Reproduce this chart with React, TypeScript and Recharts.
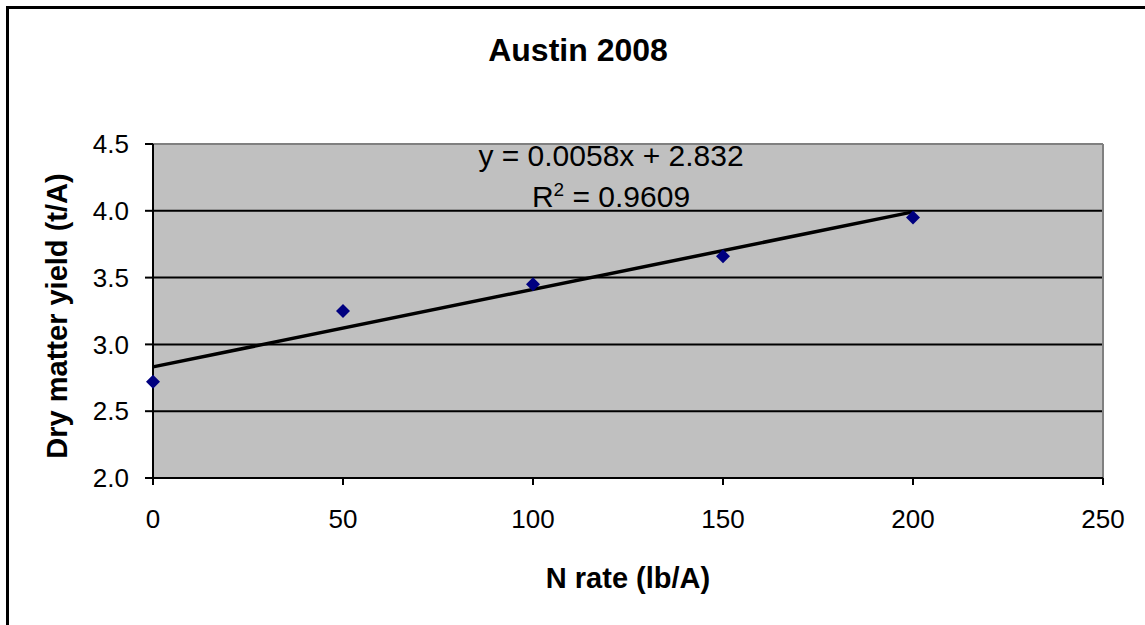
import React from "react";
import {
  ScatterChart,
  Scatter,
  XAxis,
  YAxis,
  CartesianGrid,
  ReferenceLine,
} from "recharts";

const nRate = [0, 50, 100, 150, 200];
const dryMatterYield = [2.72, 3.25, 3.45, 3.66, 3.95];
const trendX = [0, 200];
const trendY = [2.832, 3.992];
const xTicks = [0, 50, 100, 150, 200, 250];
const yTicks = [2.0, 2.5, 3.0, 3.5, 4.0, 4.5];

const points = nRate.map((x, i) => ({ x, y: dryMatterYield[i] }));
const trend = trendX.map((x, i) => ({ x, y: trendY[i] }));

const FONT = '"Liberation Sans", Arial, sans-serif';

const Diamond = (props: any) => {
  const { cx, cy } = props;
  const r = 7;
  return (
    <polygon
      points={`${cx},${cy - r} ${cx + r},${cy} ${cx},${cy + r} ${cx - r},${cy}`}
      fill="#000080"
    />
  );
};

const NoShape = () => <g />;

export default function App() {
  return (
    <div
      style={{
        position: "absolute",
        left: 0,
        top: 0,
        width: 1145,
        height: 625,
        overflow: "hidden",
        background: "#fff",
        fontFamily: FONT,
      }}
    >
      <div
        style={{
          position: "absolute",
          left: 6,
          top: 6,
          width: 1400,
          height: 900,
          border: "3px solid #000",
        }}
      />
      <div style={{ position: "absolute", left: 0, top: 0 }}>
        <ScatterChart
          width={1145}
          height={625}
          margin={{ top: 144, right: 42, bottom: 87, left: 93 }}
        >
          <CartesianGrid
            vertical={false}
            stroke="#000"
            strokeWidth={2}
            fill="#C0C0C0"
            fillOpacity={1}
          />
          <XAxis
            type="number"
            dataKey="x"
            domain={[0, 250]}
            ticks={xTicks}
            height={60}
            axisLine={{ stroke: "#000", strokeWidth: 2 }}
            tickLine={{ stroke: "#000", strokeWidth: 2 }}
            tickSize={7}
            tickMargin={25}
            tick={{ fill: "#000", fontSize: 26, fontFamily: FONT }}
            interval={0}
          />
          <YAxis
            type="number"
            dataKey="y"
            domain={[2, 4.5]}
            ticks={yTicks}
            width={60}
            axisLine={{ stroke: "#000", strokeWidth: 2 }}
            tickLine={{ stroke: "#000", strokeWidth: 2 }}
            tickSize={8}
            tickMargin={16}
            tickFormatter={(v: number) => v.toFixed(1)}
            tick={{ fill: "#000", fontSize: 26, fontFamily: FONT }}
            interval={0}
          />
          <ReferenceLine y={4.5} stroke="#808080" strokeWidth={2} />
          <ReferenceLine x={250} stroke="#808080" strokeWidth={2} />
          <Scatter
            data={trend}
            line={{ stroke: "#000", strokeWidth: 3.5 }}
            shape={NoShape}
            isAnimationActive={false}
          />
          <Scatter data={points} shape={Diamond} isAnimationActive={false} />
        </ScatterChart>
      </div>
      <div
        style={{
          position: "absolute",
          left: 0,
          width: 1156,
          top: 30,
          textAlign: "center",
          fontSize: 32,
          fontWeight: "bold",
          lineHeight: "40px",
        }}
      >
        Austin 2008
      </div>
      <div
        style={{
          position: "absolute",
          left: 411,
          width: 400,
          top: 139,
          textAlign: "center",
          fontSize: 30,
          lineHeight: "34px",
        }}
      >
        y = 0.0058x + 2.832
      </div>
      <div
        style={{
          position: "absolute",
          left: 411,
          width: 400,
          top: 180,
          textAlign: "center",
          fontSize: 30,
          lineHeight: "34px",
        }}
      >
        R<sup style={{ fontSize: 19, verticalAlign: "11px", lineHeight: 0 }}>2</sup> = 0.9609
      </div>
      <div
        style={{
          position: "absolute",
          left: 428,
          width: 400,
          top: 560,
          textAlign: "center",
          fontSize: 29,
          fontWeight: "bold",
          lineHeight: "36px",
        }}
      >
        N rate (lb/A)
      </div>
      <div
        style={{
          position: "absolute",
          left: 57 - 200,
          width: 400,
          top: 316 - 18,
          height: 36,
          textAlign: "center",
          fontSize: 29,
          fontWeight: "bold",
          lineHeight: "36px",
          transform: "rotate(-90deg)",
          transformOrigin: "50% 50%",
          whiteSpace: "nowrap",
        }}
      >
        Dry matter yield (t/A)
      </div>
    </div>
  );
}
